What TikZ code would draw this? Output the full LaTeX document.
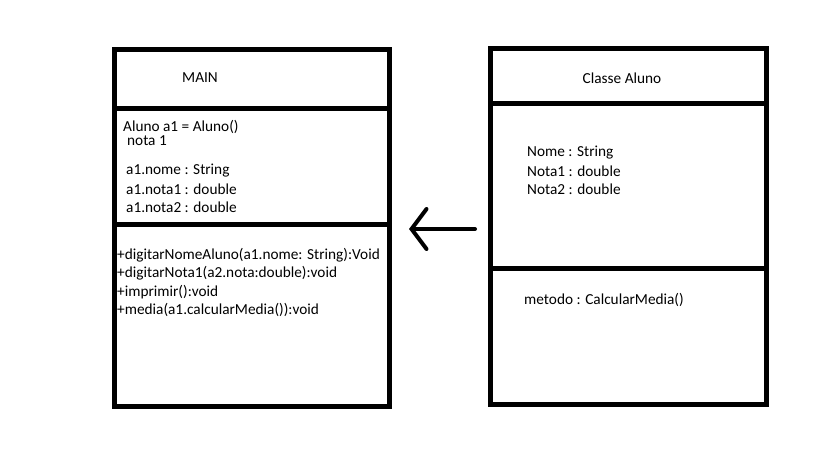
\documentclass[tikz,border=0pt]{standalone}
\usepackage{fontspec}
\setmainfont{Carlito}
\usetikzlibrary{arrows.meta}
\begin{document}
\begin{tikzpicture}[x=1pt,y=-1pt]
\tikzset{compart/.style={draw=black,line width=5pt,anchor=north west,inner sep=0pt,outer sep=0pt},
  txt/.style={anchor=west,inner sep=0pt,font=\fontsize{15.3}{18}\selectfont},
  ttl/.style={inner sep=0pt,font=\fontsize{15.3}{18}\selectfont}}
\useasboundingbox (0,0) rectangle (819,460);
% class MAIN
\node [compart,minimum width=275pt,minimum height=59pt] (mainT) at (114.5,49.5) {};
\node [compart,minimum width=275pt,minimum height=116pt] (mainA) at (114.5,108.5) {};
\node [compart,minimum width=275pt,minimum height=182pt] (mainM) at (114.5,224.5) {};
\node [ttl] (mainName) at (200,78) {MAIN};
\node [txt,anchor=base west,text depth=0pt] (mainObj) at (123,131) {Aluno a1 = Aluno()};
\node [txt,anchor=base west] (mainNota) at (127,145) {nota 1};
\node [txt] (mainAt1) at (126,171) {a1.nome : String};
\node [txt] (mainAt2) at (126,189) {a1.nota1 : double};
\node [txt] (mainAt3) at (126,207) {a1.nota2 : double};
\node [txt] (mainOp1) at (117,255) {+digitarNomeAluno(a1.nome: String):Void};
\node [txt] (mainOp2) at (117,273) {+digitarNota1(a2.nota:double):void};
\node [txt] (mainOp3) at (117,292) {+imprimir():void};
\node [txt] (mainOp4) at (117,310) {+media(a1.calcularMedia()):void};
% class Aluno
\node [compart,minimum width=276pt,minimum height=55pt] (alunoT) at (490.5,48.5) {};
\node [compart,minimum width=276pt,minimum height=165pt] (alunoA) at (490.5,103.5) {};
\node [compart,minimum width=276pt,minimum height=136pt] (alunoM) at (490.5,268.5) {};
\node [ttl] (alunoName) at (622,78) {Classe Aluno};
\node [txt] (alunoAt1) at (527,153) {Nome : String};
\node [txt] (alunoAt2) at (527,171) {Nota1 : double};
\node [txt] (alunoAt3) at (527,189) {Nota2 : double};
\node [txt] (alunoOp1) at (524,300) {metodo : CalcularMedia()};
% arrow
\coordinate (arrTail) at (475,229);
\coordinate (arrTip) at (409,229);
\draw [line width=4pt,line cap=round,-{Straight Barb[length=15pt,width=40pt,line cap=round]}] (arrTail) -- (arrTip);
\end{tikzpicture}
\end{document}
